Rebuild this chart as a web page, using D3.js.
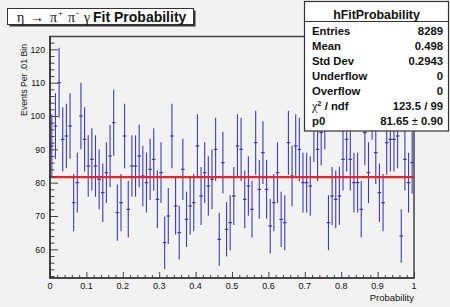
<!DOCTYPE html>
<html>
<head>
<meta charset="utf-8">
<script src="https://cdn.jsdelivr.net/npm/d3@7"></script>
<style>
  html, body { margin: 0; padding: 0; background: #f2f2f2; }
  svg { display: block; font-family: "Liberation Sans", Arial, sans-serif; }
</style>
</head>
<body>
<svg id="chart" width="450" height="307"></svg>
<script>
// bin contents of hFitProbability, 100 bins of width 0.01 on [0, 1]
var binCounts = [
  91, 97, 110, 93, 94, 97, 74, 80, 100, 93,
  85, 87, 85, 81, 77, 83, 88, 98, 71, 74,
  94, 72, 85, 85, 88, 82, 80, 84, 87, 75,
  83, 62, 70, 94, 73, 65, 84, 69, 73, 74,
  91, 76, 83, 79, 81, 90, 63, 86, 66, 68,
  76, 91, 90, 75, 79, 72, 92, 78, 89, 78,
  67, 74, 83, 69, 68, 92, 82, 91, 90, 80,
  80, 79, 96, 90, 95, 100, 68, 76, 75, 76,
  87, 93, 87, 80, 80, 72, 95, 83, 103, 89,
  77, 74, 92, 93, 93, 94, 64, 87, 80, 86
];
var binWidth = 0.01;
var fitConstant = 81.65;

var xTicks = [0, 0.1, 0.2, 0.3, 0.4, 0.5, 0.6, 0.7, 0.8, 0.9, 1];
var xTickLabels = ["0", "0.1", "0.2", "0.3", "0.4", "0.5", "0.6", "0.7", "0.8", "0.9", "1"];
var yTicks = [60, 70, 80, 90, 100, 110, 120];

var statLabels = ["Entries", "Mean", "Std Dev", "Underflow", "Overflow", "chi2", "p0"];
var statValues = ["8289", "0.498", "0.2943", "0", "0", "123.5 / 99", "81.65"];

var svg = d3.select("#chart");
var frame = { left: 50, right: 414, top: 36, bottom: 278 };

svg.append("rect")
  .attr("width", 450).attr("height", 307)
  .attr("fill", "#f2f2f2");

var x = d3.scaleLinear().domain([0, 1]).range([frame.left, frame.right]);
var y = d3.scaleLinear().domain([51.4, 124]).range([frame.bottom, frame.top]);

svg.append("clipPath").attr("id", "clip")
  .append("rect")
  .attr("x", frame.left).attr("y", frame.top)
  .attr("width", frame.right - frame.left)
  .attr("height", frame.bottom - frame.top);

// frame
svg.append("rect")
  .attr("x", frame.left).attr("y", frame.top + 0.5)
  .attr("width", frame.right - frame.left)
  .attr("height", frame.bottom - frame.top - 0.5)
  .attr("fill", "none")
  .attr("stroke", "#444")
  .attr("stroke-width", 1.5);

// error bars
var bars = svg.append("g").attr("clip-path", "url(#clip)");
var bins = bars.selectAll("g.bin").data(binCounts).enter().append("g").attr("class", "bin");

bins.append("line")
  .attr("x1", function (d, i) { return x((i + 0.5) * binWidth); })
  .attr("x2", function (d, i) { return x((i + 0.5) * binWidth); })
  .attr("y1", function (d) { return y(d - Math.sqrt(d)); })
  .attr("y2", function (d) { return y(d + Math.sqrt(d)); })
  .attr("stroke", "#3c3cc0")
  .attr("stroke-width", 1.1);

bins.append("line")
  .attr("x1", function (d, i) { return x(i * binWidth); })
  .attr("x2", function (d, i) { return x((i + 1) * binWidth); })
  .attr("y1", function (d) { return y(d); })
  .attr("y2", function (d) { return y(d); })
  .attr("stroke", "#2e2ea8")
  .attr("stroke-width", 1.1);

// fit line
svg.append("line")
  .attr("x1", frame.left).attr("x2", frame.right)
  .attr("y1", y(fitConstant)).attr("y2", y(fitConstant))
  .attr("stroke", "#ee2222")
  .attr("stroke-width", 2.2);

// y axis (ticks inside the frame)
var yAxis = d3.axisRight(y)
  .tickValues(d3.range(52, 125, 2))
  .tickSize(4.5)
  .tickFormat("");
var yAxisG = svg.append("g").attr("transform", "translate(" + frame.left + ",0)").call(yAxis);
yAxisG.selectAll(".tick line").attr("stroke", "#444")
  .attr("x2", function (d) { return d % 10 === 0 ? 8 : 4.5; });
yAxisG.select(".domain").remove();

svg.append("g").selectAll("text").data(yTicks).enter().append("text")
  .attr("x", 45).attr("y", function (d) { return y(d) + 3.2; })
  .attr("text-anchor", "end")
  .attr("font-size", 8.7)
  .attr("fill", "#111")
  .text(function (d) { return d; });

// x axis (ticks inside the frame)
var xAxis = d3.axisTop(x)
  .tickValues(d3.range(0, 101, 2).map(function (v) { return v / 100; }))
  .tickSize(3)
  .tickFormat("");
var xAxisG = svg.append("g").attr("transform", "translate(0," + frame.bottom + ")").call(xAxis);
xAxisG.selectAll(".tick line").attr("stroke", "#444")
  .attr("y2", function (d) { return Math.round(d * 100) % 10 === 0 ? -6 : -3; });
xAxisG.select(".domain").remove();

svg.append("g").selectAll("text").data(xTicks).enter().append("text")
  .attr("x", function (d) { return x(d); }).attr("y", 289)
  .attr("text-anchor", "middle")
  .attr("font-size", 9)
  .attr("fill", "#111")
  .text(function (d, i) { return xTickLabels[i]; });

// axis lines
svg.append("line").attr("x1", frame.left).attr("x2", frame.left)
  .attr("y1", frame.top).attr("y2", frame.bottom + 0.5)
  .attr("stroke", "#222").attr("stroke-width", 1.2);
svg.append("line").attr("x1", frame.left).attr("x2", frame.right + 0.5)
  .attr("y1", frame.bottom).attr("y2", frame.bottom)
  .attr("stroke", "#222").attr("stroke-width", 1.2);

// axis titles
svg.append("text")
  .attr("x", frame.right).attr("y", 301)
  .attr("text-anchor", "end")
  .attr("font-size", 9.5)
  .attr("fill", "#111")
  .text("Probability");

svg.append("text")
  .attr("transform", "translate(27,44) rotate(-90)")
  .attr("text-anchor", "end")
  .attr("font-size", 8.7)
  .attr("fill", "#111")
  .text("Events Per .01 Bin");

// title box
svg.append("rect")
  .attr("x", 9.5).attr("y", 10.5).attr("width", 186).attr("height", 16)
  .attr("fill", "#333");
svg.append("rect")
  .attr("x", 7.5).attr("y", 8.5).attr("width", 186).attr("height", 16)
  .attr("fill", "#fff").attr("stroke", "#333").attr("stroke-width", 1);

var title = svg.append("text").attr("y", 21.5).attr("font-size", 14).attr("fill", "#111");
var titleParts = [
  { t: "\u03b7", x: 17, serif: true },
  { t: "\u2192", x: 30, serif: true },
  { t: "\u03c0", x: 50, serif: true },
  { t: "+", x: 58, serif: true, sup: true },
  { t: "\u03c0", x: 68, serif: true },
  { t: "-", x: 76, serif: true, sup: true },
  { t: "\u03b3", x: 84, serif: true },
  { t: "Fit Probability", x: 93, serif: false }
];
titleParts.forEach(function (p) {
  title.append("tspan")
    .attr("x", p.x)
    .attr("y", p.sup ? 16 : 21.5)
    .attr("font-family", p.serif ? "'Liberation Serif', serif" : null)
    .attr("font-weight", p.serif ? "normal" : "bold")
    .attr("font-size", p.sup ? 9 : 14)
    .text(p.t);
});

// stats box
svg.append("rect")
  .attr("x", 304.5).attr("y", 1.5).attr("width", 144).attr("height", 129.5)
  .attr("fill", "#fff").attr("stroke", "#333").attr("stroke-width", 1.2);
svg.append("line").attr("x1", 304.5).attr("x2", 448.5)
  .attr("y1", 21.5).attr("y2", 21.5)
  .attr("stroke", "#333").attr("stroke-width", 1);
svg.append("text")
  .attr("x", 376.5).attr("y", 18.5)
  .attr("text-anchor", "middle")
  .attr("font-size", 12.4).attr("font-weight", "bold").attr("fill", "#111")
  .text("hFitProbability");

var statG = svg.append("g").attr("font-size", 11.3).attr("font-weight", "bold").attr("fill", "#111");
statLabels.forEach(function (lab, i) {
  var yy = 35 + 15 * i;
  var lt = statG.append("text").attr("x", 312).attr("y", yy);
  if (lab === "chi2") {
    lt.append("tspan").attr("font-family", "'Liberation Serif', serif").attr("font-weight", "normal")
      .attr("font-size", 12).text("\u03c7");
    lt.append("tspan").attr("dy", -4.5).attr("font-size", 7.5).text("2");
    lt.append("tspan").attr("dy", 4.5).text(" / ndf");
  } else {
    lt.text(lab);
  }
  var vt = statG.append("text").attr("x", 443).attr("y", yy).attr("text-anchor", "end");
  if (lab === "p0") {
    vt.append("tspan").text(statValues[i] + " ");
    vt.append("tspan").attr("font-weight", "normal").text("\u00b1");
    vt.append("tspan").text(" 0.90");
  } else {
    vt.text(statValues[i]);
  }
});
</script>
</body>
</html>
